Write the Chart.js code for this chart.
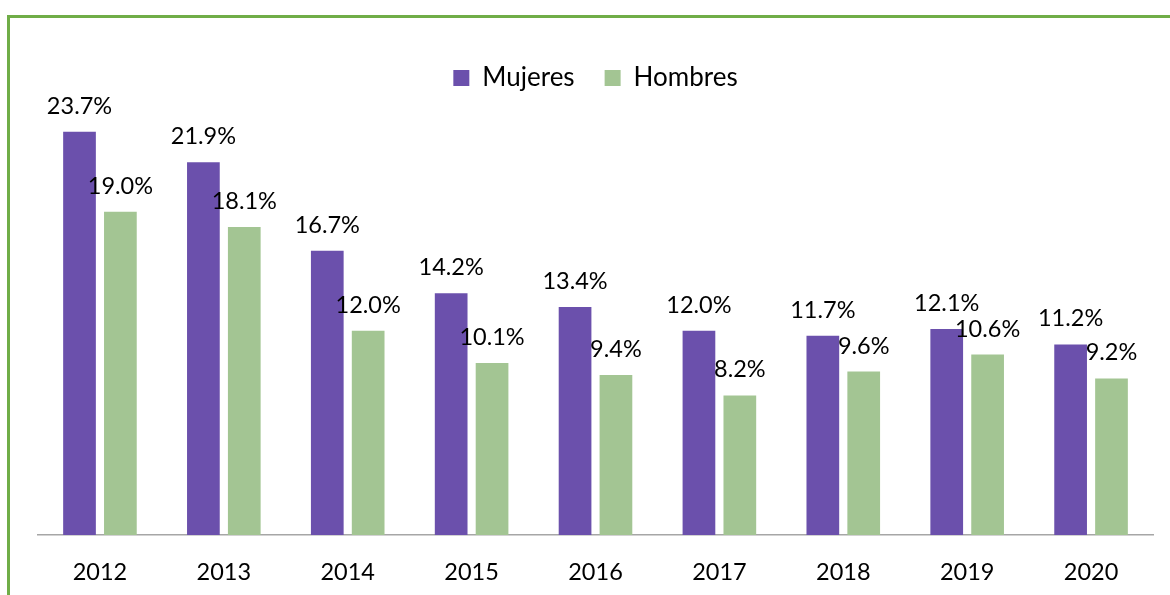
<!DOCTYPE html>
<html>
<head>
<meta charset="utf-8">
<script src="https://cdn.jsdelivr.net/npm/chart.js@4"></script>
<style>
    html, body { margin: 0; padding: 0; background: #fff; }
    #frame {
        position: absolute; left: 7px; top: 15px; width: 1200px; height: 600px;
        border-top: 3px solid #70AD47; border-left: 3px solid #70AD47;
    }
    #wrap { position: absolute; left: 0; top: 0; width: 1170px; height: 595px; }
</style>
</head>
<body>
<div id="frame"></div>
<div id="wrap"><canvas id="chart"></canvas></div>
<script>
const years = ['2012', '2013', '2014', '2015', '2016', '2017', '2018', '2019', '2020'];
const mujeres = [23.7, 21.9, 16.7, 14.2, 13.4, 12.0, 11.7, 12.1, 11.2];
const hombres = [19.0, 18.1, 12.0, 10.1, 9.4, 8.2, 9.6, 10.6, 9.2];
const seriesNames = ['Mujeres', 'Hombres'];

const FONT = 'Lato';

// value labels above each bar, positioned from the bar elements
const barLabels = {
    id: 'barLabels',
    afterDatasetsDraw(chart) {
        const ctx = chart.ctx;
        ctx.save();
        ctx.font = '23.5px ' + FONT;
        ctx.fillStyle = '#000';
        ctx.textAlign = 'center';
        ctx.textBaseline = 'alphabetic';
        chart.data.datasets.forEach((ds, di) => {
            chart.getDatasetMeta(di).data.forEach((bar, i) => {
                ctx.fillText(ds.data[i].toFixed(1) + '%', bar.x, bar.y - 18);
            });
        });
        ctx.restore();
    }
};

const ctx = document.getElementById('chart').getContext('2d');
new Chart(ctx, {
    type: 'bar',
    data: {
        labels: years,
        datasets: [{
            label: seriesNames[0],
            data: mujeres,
            backgroundColor: '#6B50AC'
        }, {
            label: seriesNames[1],
            data: hombres,
            backgroundColor: '#A3C593'
        }]
    },
    options: {
        responsive: true,
        maintainAspectRatio: false,
        animation: false,
        categoryPercentage: 0.66,
        barPercentage: 0.8,
        layout: {
            padding: { top: 35, left: 38, right: 17, bottom: 0 }
        },
        plugins: {
            legend: {
                position: 'top',
                labels: {
                    color: '#000',
                    boxWidth: 16,
                    boxHeight: 16,
                    padding: 30,
                    font: { family: FONT, size: 26 }
                }
            },
            tooltip: { enabled: false }
        },
        scales: {
            x: {
                grid: { display: false },
                border: { display: true, color: '#A6A6A6', width: 1.5 },
                ticks: {
                    color: '#000',
                    padding: 15,
                    font: { family: FONT, size: 23.5 }
                },
                afterFit: function(scale) {
                    scale.height = 60;
                }
            },
            y: {
                display: false,
                min: 0,
                max: 25.5
            }
        }
    },
    plugins: [barLabels]
});
</script>
</body>
</html>
